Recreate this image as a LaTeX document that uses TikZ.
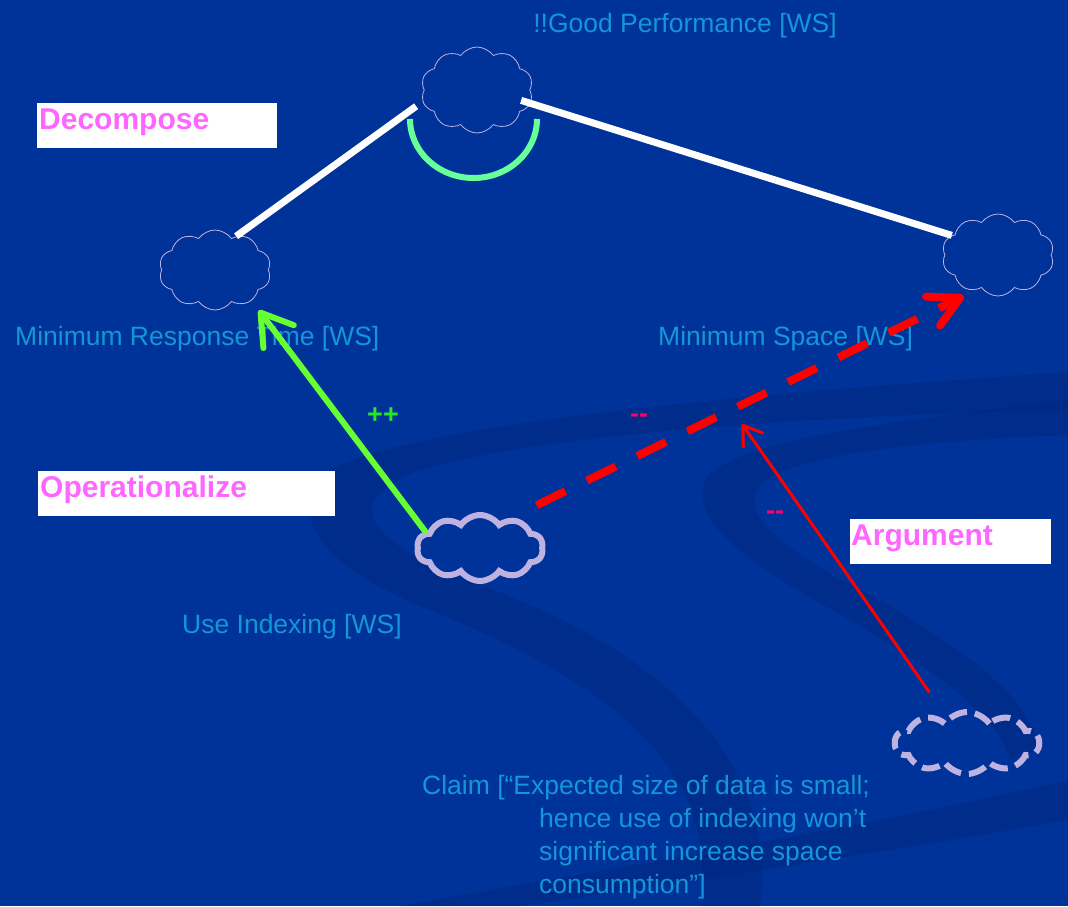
\documentclass[tikz,border=0pt]{standalone}
\usepackage{fontspec}
\setmainfont{Liberation Sans}
\usetikzlibrary{shapes.symbols,arrows.meta}
\definecolor{bg}{RGB}{0,51,153}
\definecolor{swirl}{RGB}{0,38,125}
\definecolor{lbl}{RGB}{20,150,215}
\definecolor{cloudline}{RGB}{190,178,225}
\definecolor{pinklbl}{RGB}{255,102,255}
\definecolor{mint}{RGB}{102,255,153}
\definecolor{lime}{RGB}{102,255,51}
\definecolor{plusgreen}{RGB}{40,230,40}
\definecolor{minuspink}{RGB}{255,0,102}
\begin{document}
\begin{tikzpicture}[x=1pt,y=-1pt,
  softgoal/.style={cloud, cloud puffs=10, cloud puff arc=110, cloud ignores aspect, draw=cloudline, line width=0.8pt, inner sep=0pt},
  opgoal/.style={softgoal, line width=6pt},
  claimgoal/.style={opgoal, dash pattern=on 18pt off 8pt},
  goallabel/.style={text=lbl, font=\fontsize{26.5}{33}\selectfont, inner sep=0pt},
  tagbox/.style={fill=white, text=pinklbl, font=\fontsize{30}{34}\selectfont\bfseries, inner sep=0pt, inner xsep=2pt, anchor=north west, align=left},
  andlink/.style={white, line width=7pt},
  helps/.style={lime, line width=6pt, line cap=round, -{Straight Barb[round, length=30pt, width=38pt]}},
  hurts/.style={red, line width=8pt, dash pattern=on 32pt off 24pt, -{Straight Barb[round, length=30pt, width=32pt]}},
  argue/.style={red, line width=3pt, -{Straight Barb[round, length=18pt, width=24pt]}},
  contrib/.style={font=\fontsize{27}{30}\selectfont\bfseries, inner sep=0pt}
]
\fill[bg] (0,0) rectangle (1068,906);
\useasboundingbox (0,0) rectangle (1068,906);
% background swirls
\begin{scope}[swirl, opacity=0.45]
\fill (1068,372) .. controls (800,390) and (420,420) .. (330,470)
  .. controls (290,500) and (300,560) .. (430,610)
  .. controls (600,680) and (720,760) .. (700,906) -- (760,906)
  .. controls (780,760) and (660,650) .. (480,585)
  .. controls (360,540) and (340,500) .. (420,470)
  .. controls (560,430) and (850,415) .. (1068,410) -- cycle;
\fill (1068,400) .. controls (900,420) and (730,440) .. (705,480)
  .. controls (690,520) and (740,560) .. (850,620)
  .. controls (950,680) and (1000,720) .. (1010,760)
  -- (1040,750) .. controls (1030,700) and (980,660) .. (880,600)
  .. controls (770,545) and (740,510) .. (760,485)
  .. controls (800,450) and (950,440) .. (1068,435) -- cycle;
\fill (1068,780) .. controls (850,830) and (600,870) .. (400,906) -- (520,906)
  .. controls (700,880) and (900,850) .. (1068,820) -- cycle;
\end{scope}
% goals
\node[softgoal, minimum width=112pt, minimum height=86pt] (gp) at (477,90) {};
\node[softgoal, minimum width=112pt, minimum height=80pt] (mrt) at (215,270) {};
\node[softgoal, minimum width=112pt, minimum height=82pt] (ms) at (998,255) {};
\node[opgoal, minimum width=126pt, minimum height=66pt] (ui) at (480,548) {};
\node[claimgoal, minimum width=144pt, minimum height=62pt] (cl) at (967,743) {};
% goal labels
\node[goallabel] (gpl) at (685,26) {!!Good Performance [WS]};
\node[goallabel, anchor=west] (mrtl) at (15,339) {Minimum Response Time [WS]};
\node[goallabel, anchor=west] (msl) at (658,339) {Minimum Space [WS]};
\node[goallabel, anchor=west] (uil) at (182,627) {Use Indexing [WS]};
\node[goallabel, anchor=north west, align=left] (cll) at (422,775)
  {Claim [“Expected size of data is small;\\
   \hspace*{117pt}hence use of indexing won’t\\
   \hspace*{117pt}significant increase space\\
   \hspace*{117pt}consumption”]};
% tag boxes
\node[tagbox, text width=236pt, text height=26.5pt, text depth=18.5pt] (dec) at (37,103) {Decompose};
\node[tagbox, text width=293pt, text height=26.5pt, text depth=18.5pt] (op) at (38,471) {Operationalize};
\node[tagbox, inner xsep=1pt, text width=199pt, text height=26.5pt, text depth=18.5pt] (arg) at (850,519) {Argument};
% AND decomposition
\draw[andlink, shorten <=8pt] (gp.192) -- (mrt.58);
\draw[andlink, shorten <=-10pt] (gp.-14) -- (ms.157);
\draw[mint, line width=6pt] (410,119) arc[start angle=180, end angle=0, x radius=63.5, y radius=59];
% contributions
\draw[helps, shorten >=12pt] (ui.163) -- (mrt.-40);
\draw[hurts, shorten <=28pt, shorten >=14pt] (ui.44) -- (ms.-122);
\coordinate (hurtmid) at (742,424);
\draw[argue, shorten <=30pt] (cl.128) -- (hurtmid);
\node[contrib, text=plusgreen] (pp) at (383,416) {++};
\node[contrib, text=minuspink] (mm1) at (639,418) {\mbox{-}\mbox{-}};
\node[contrib, text=minuspink] (mm2) at (775,515) {\mbox{-}\mbox{-}};
\end{tikzpicture}
\end{document}
